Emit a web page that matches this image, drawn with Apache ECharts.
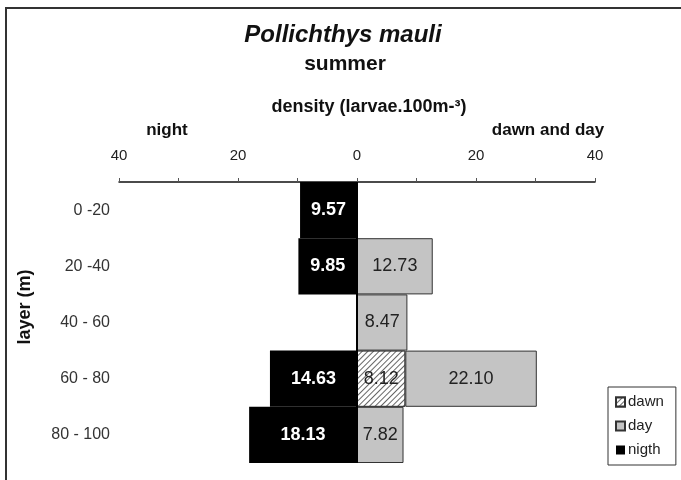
<!DOCTYPE html>
<html>
<head>
<meta charset="utf-8">
<script src="https://cdn.jsdelivr.net/npm/echarts@6/dist/echarts.min.js"></script>
<style>
  html, body { margin: 0; padding: 0; background: #fff; }
  #chart { width: 681px; height: 480px; }
</style>
</head>
<body>
<div id="chart"></div>
<script>
    // layers, top to bottom
    var layers = ['0 -20', '20 -40', '40 - 60', '60 - 80', '80 - 100'];
    // night goes left, dawn and day go right
    var nigth = [9.57, 9.85, null, 14.63, 18.13];
    var dawn = [null, null, null, 8.12, null];
    var day = [null, 12.73, 8.47, 22.10, 7.82];
    var xTicks = [-40, -20, 0, 20, 40];

    var font = 'Liberation Sans, Arial, sans-serif';
    var myChart = echarts.init(document.getElementById('chart'));

    function lbl(p) {
        return Math.abs(p.value).toFixed(2);
    }

    var option = {
        backgroundColor: '#fff',
        animation: false,
        textStyle: { fontFamily: font },
        grid: { left: 119, right: 86, top: 182, bottom: 17 },
        graphic: [
            { type: 'rect', shape: { x: 6, y: 8, width: 720, height: 520 },
              style: { fill: 'none', stroke: '#333', lineWidth: 2 } },
            { type: 'text', x: 343, y: 35, style: { text: 'Pollichthys mauli', font: 'italic bold 24px ' + font, fill: '#111', align: 'center', verticalAlign: 'middle' } },
            { type: 'text', x: 345, y: 64, style: { text: 'summer', font: 'bold 21px ' + font, fill: '#111', align: 'center', verticalAlign: 'middle' } },
            { type: 'text', x: 369, y: 107, style: { text: 'density (larvae.100m-³)', font: 'bold 18px ' + font, fill: '#111', align: 'center', verticalAlign: 'middle' } },
            { type: 'text', x: 167, y: 130, style: { text: 'night', font: 'bold 17px ' + font, fill: '#111', align: 'center', verticalAlign: 'middle' } },
            { type: 'text', x: 548, y: 130, style: { text: 'dawn and day', font: 'bold 17px ' + font, fill: '#111', align: 'center', verticalAlign: 'middle' } },
            { type: 'text', x: 25, y: 307, rotation: Math.PI / 2, style: { text: 'layer (m)', font: 'bold 18px ' + font, fill: '#111', align: 'center', verticalAlign: 'middle' } }
        ],
        legend: {
            orient: 'vertical',
            left: 608, top: 387,
            padding: [7, 12, 7, 7],
            itemGap: 8,
            itemWidth: 9, itemHeight: 9,
            borderColor: '#333', borderWidth: 1,
            icon: 'rect',
            data: ['dawn', 'day', 'nigth'],
            textStyle: { fontSize: 15, lineHeight: 16, color: '#222', padding: [0, 0, 0, -2] }
        },
        xAxis: {
            type: 'value',
            position: 'top',
            min: -40, max: 40, interval: 10,
            axisLine: { show: true, lineStyle: { color: '#111', width: 1.5 } },
            axisTick: { show: true, length: 4, lineStyle: { color: '#555' } },
            splitLine: { show: false },
            axisLabel: {
                margin: 19, fontSize: 15, color: '#222',
                formatter: function (v) {
                    return xTicks.indexOf(v) >= 0 ? String(Math.abs(v)) : '';
                }
            }
        },
        yAxis: {
            type: 'category',
            inverse: true,
            data: layers,
            axisLine: { show: false },
            axisTick: { show: false },
            axisLabel: { margin: 9, fontSize: 16, color: '#333' }
        },
        series: [
            {
                name: 'nigth', type: 'bar', stack: 'all', barCategoryGap: 0,
                data: nigth.map(function (v) { return v == null ? null : -v; }),
                itemStyle: { color: '#000' },
                label: { show: true, position: 'inside', color: '#fff', fontWeight: 'bold', fontSize: 18, formatter: lbl },
                markLine: {
                    silent: true, symbol: 'none',
                    label: { show: false },
                    lineStyle: { color: '#000', width: 2, type: 'solid' },
                    data: [{ xAxis: 0 }]
                }
            },
            {
                name: 'dawn', type: 'bar', stack: 'all', barCategoryGap: 0,
                data: dawn,
                itemStyle: {
                    color: '#fff', borderColor: '#333', borderWidth: 1,
                    decal: { symbol: 'rect', color: '#666', backgroundColor: '#fff', dashArrayX: [1, 0], dashArrayY: [1, 3], rotation: -Math.PI / 4 }
                },
                label: { show: true, position: 'inside', color: '#222', fontSize: 18, formatter: lbl }
            },
            {
                name: 'day', type: 'bar', stack: 'all', barCategoryGap: 0,
                data: day,
                itemStyle: { color: '#c4c4c4', borderColor: '#333', borderWidth: 1 },
                label: { show: true, position: 'inside', color: '#222', fontSize: 18, formatter: lbl }
            }
        ]
    };
    myChart.setOption(option);
</script>
</body>
</html>
